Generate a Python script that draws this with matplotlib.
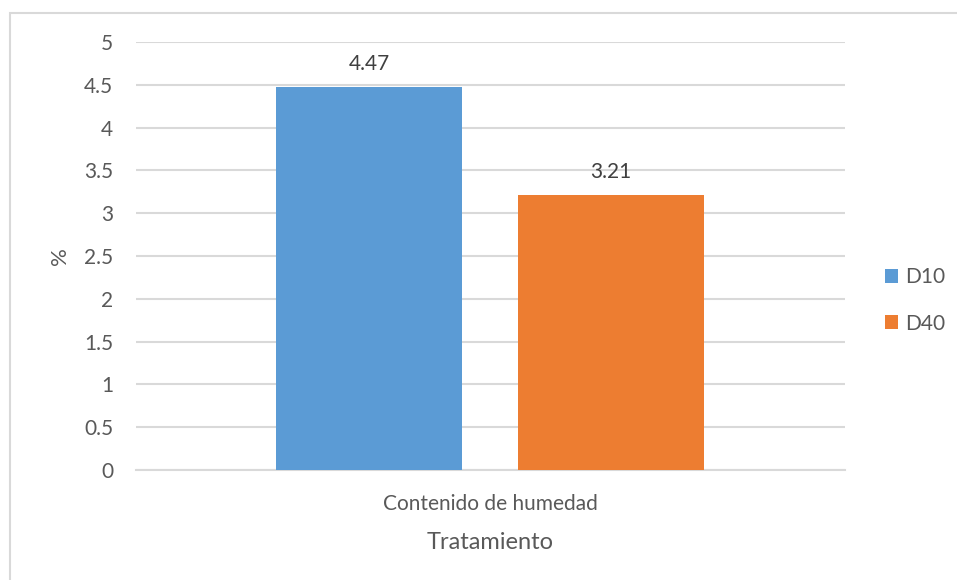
import matplotlib.pyplot as plt
from matplotlib.patches import Rectangle

categories = ["Contenido de humedad"]
series_names = ["D10", "D40"]
series_values = [[4.47], [3.21]]
colors = ["#5B9BD5", "#ED7D31"]
yticks = [0, 0.5, 1, 1.5, 2, 2.5, 3, 3.5, 4, 4.5, 5]

text_color = "#595959"
plt.rcParams["font.family"] = ["Lato", "DejaVu Sans"]

fig = plt.figure(figsize=(9.57, 5.8), dpi=100)
ax = fig.add_axes([0.1421, 0.1897, 0.7409, 0.7379])

# chart border (top and left edges visible)
fig.patches.append(Rectangle((10 / 957, -0.1), 1.2, 1.1 - 13 / 580,
                             transform=fig.transFigure, fill=False,
                             edgecolor="#D9D9D9", linewidth=1.5))

bar_width = 0.2623
offsets = [-0.1714, 0.1700]
for name, vals, col, off in zip(series_names, series_values, colors, offsets):
    xs = [i + off for i in range(len(vals))]
    bars = ax.bar(xs, vals, width=bar_width, color=col, label=name, zorder=3)
    for b, v in zip(bars, vals):
        ax.text(b.get_x() + b.get_width() / 2, v + 0.16, f"{v:.2f}",
                ha="center", va="bottom", fontsize=15, color="#404040")

ax.set_xlim(-0.5, len(categories) - 0.5)
ax.set_ylim(0, 5)
ax.set_yticks(yticks)
ax.set_yticklabels([f"{t:g}" for t in yticks])
ax.set_xticks(range(len(categories)))
ax.set_xticklabels(categories)
ax.tick_params(axis="both", length=0, labelsize=15, labelcolor=text_color)
ax.tick_params(axis="y", pad=16.5)
ax.tick_params(axis="x", pad=17)
ax.yaxis.grid(True, color="#D9D9D9", linewidth=1.5, zorder=0)
for s in ["top", "right", "left"]:
    ax.spines[s].set_visible(False)
ax.spines["bottom"].set_color("#D9D9D9")
ax.spines["bottom"].set_linewidth(1.5)

ax.set_xlabel("Tratamiento", fontsize=17, color=text_color, va="top")
ax.xaxis.set_label_coords(0.5, -0.145)
ax.set_ylabel("%", fontsize=16, color=text_color)
ax.yaxis.set_label_coords(-0.093, 0.5)

ax.legend(loc="center left", bbox_to_anchor=(1.056, 0.396), frameon=False,
          fontsize=15, labelcolor=text_color, handlelength=0.65,
          handleheight=0.65, handletextpad=0.35, labelspacing=1.25,
          borderaxespad=0, borderpad=0)

fig.savefig("out.png", dpi=100)
plt.close(fig)
